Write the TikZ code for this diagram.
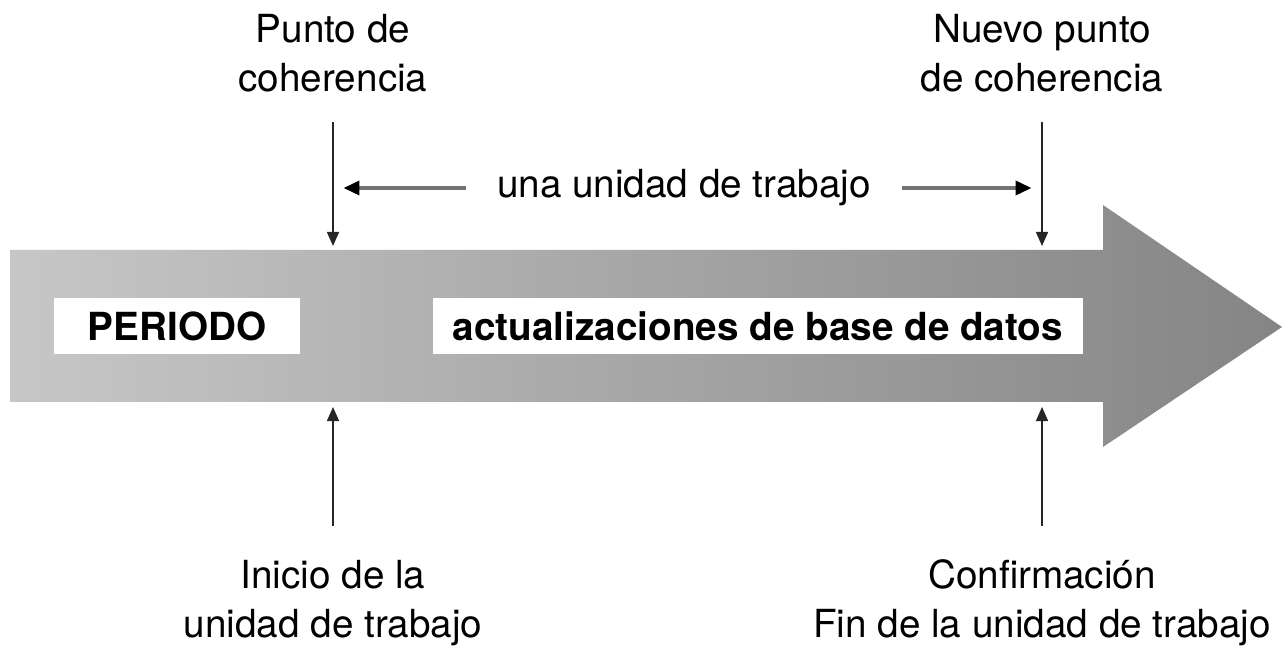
\documentclass[tikz,border=0pt]{standalone}
\usepackage{fontspec}
\setmainfont{TeX Gyre Heros}
\usetikzlibrary{arrows.meta}
\tikzset{
  note/.style={align=center, inner sep=0pt, font=\fontsize{11}{14}\selectfont},
  tick/.style={-{Triangle[length=4pt,width=3.4pt]}, line width=0.5pt, black!85},
  span/.style={-{Triangle[length=4.5pt,width=4pt,color=black]}, line width=0.9pt, black!55},
  whitebox/.style={fill=white, inner sep=0pt, minimum height=0.55cm,
    font=\bfseries\fontsize{11}{14}\selectfont}
}
\begin{document}
\begin{tikzpicture}[x=0.01cm, y=-0.01cm]
    \useasboundingbox (0,0) rectangle (1285,646);
    % big arrow
    \shade[left color=black!22, right color=black!48]
      (10,250) -- (1103,250) -- (1103,205) -- (1282,327) -- (1103,447) -- (1103,402) -- (10,402) -- cycle;
    \node[whitebox, minimum width=2.46cm] (period) at (177,326) {PERIODO};
    \node[whitebox, minimum width=6.5cm] (updates) at (758,326) {actualizaciones de base de datos};
    % labels
    \node[note] (ptop) at (333,53) {Punto de\\coherencia};
    \node[note] (ntop) at (1042,53) {Nuevo punto\\de coherencia};
    \node[note] (ibot) at (333,603) {Inicio de la\\unidad de trabajo};
    \node[note] (cbot) at (1042,603) {Confirmación\\Fin de la unidad de trabajo};
    \coordinate (t1) at (333,246);
    \coordinate (t2) at (1042,246);
    \coordinate (b1) at (333,407);
    \coordinate (b2) at (1042,407);
    \draw[tick, shorten <=0.29cm] (ptop.south) -- (t1);
    \draw[tick, shorten <=0.29cm] (ntop.south) -- (t2);
    \draw[tick, shorten <=0.33cm] (ibot.north) -- (b1);
    \draw[tick, shorten <=0.33cm] (cbot.north) -- (b2);
    % one unit of work
    \node[note, anchor=mid, inner xsep=0.3cm] (unit) at (684,188) {una unidad de trabajo};
    \draw[span, shorten >=3pt] (unit.mid west) -- (t1 |- unit.mid);
    \draw[span, shorten >=3pt] (unit.mid east) -- (t2 |- unit.mid);
\end{tikzpicture}
\end{document}
